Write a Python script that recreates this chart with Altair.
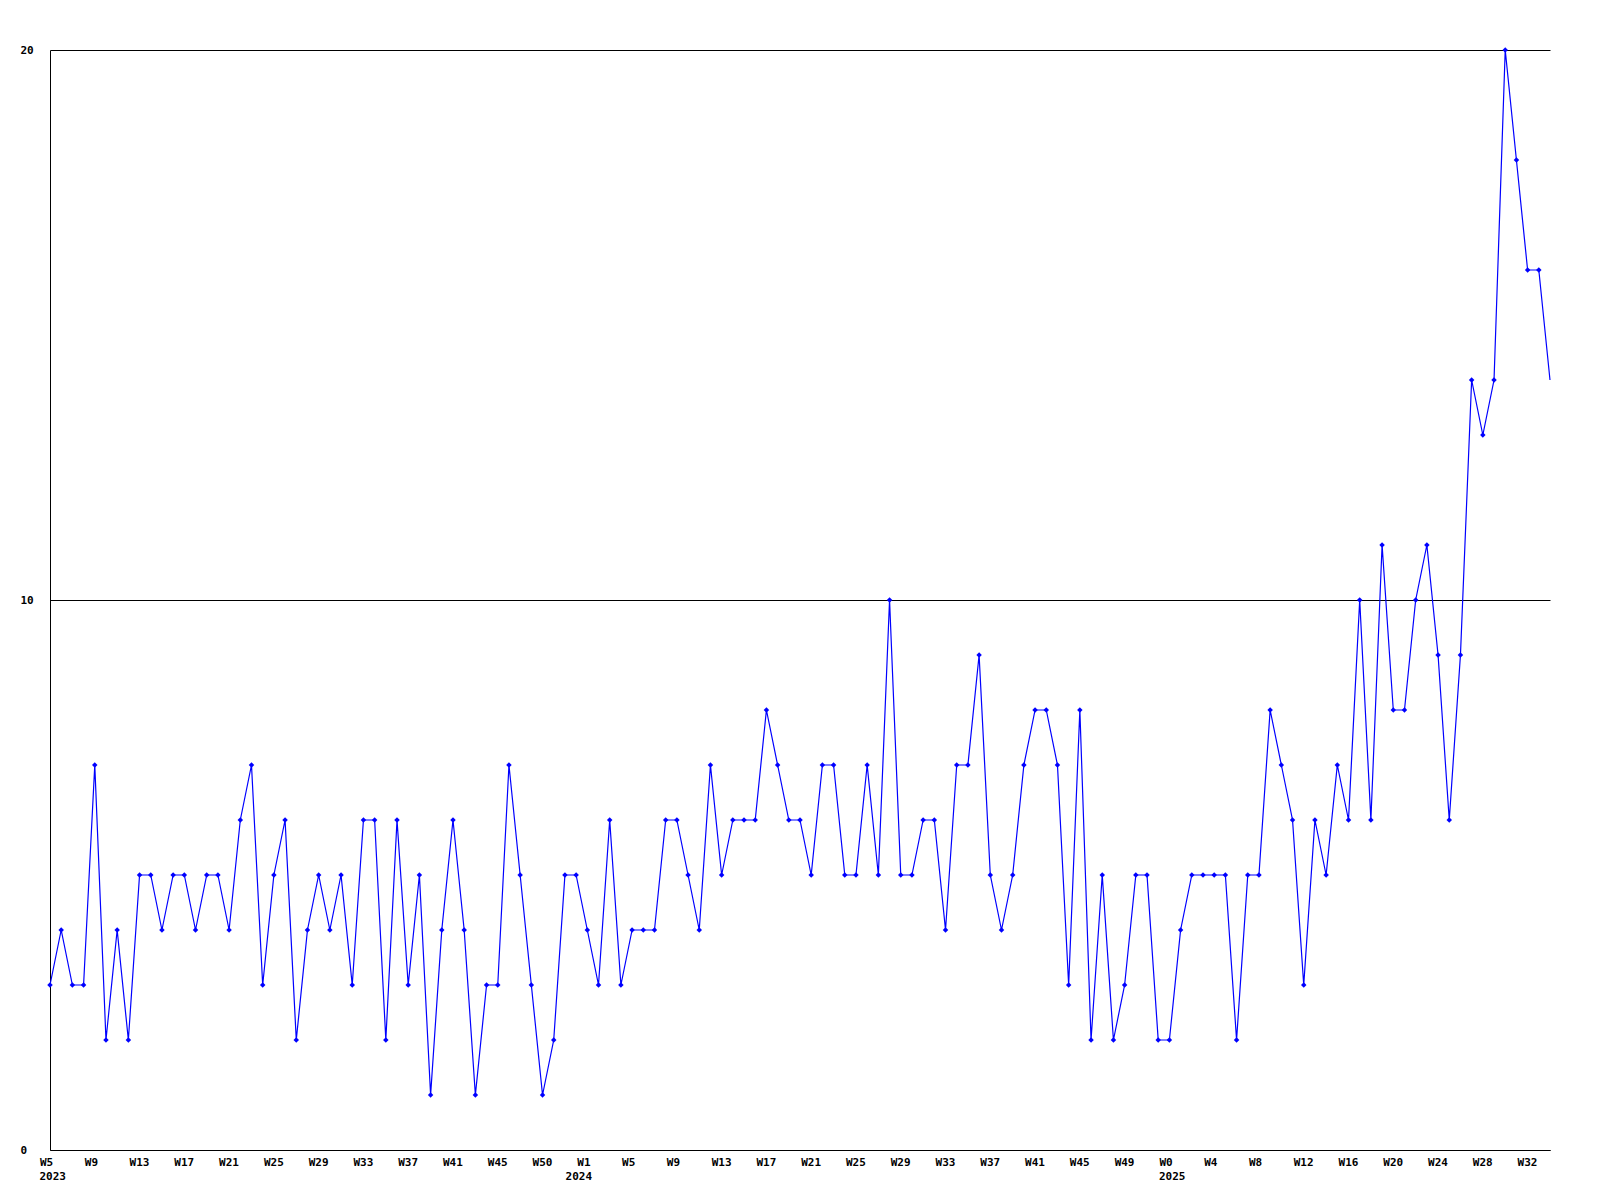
import altair as alt
import pandas as pd

# weekly values, 2023 W5 .. 2025 W33
values = [
    3, 4, 3, 3, 7, 2, 4, 2, 5, 5, 4, 5, 5, 4, 5, 5, 4, 6, 7, 3, 5, 6, 2, 4, 5, 4, 5, 3,
    6, 6, 2, 6, 3, 5, 1, 4, 6, 4, 1, 3, 3, 7, 5, 3, 1, 2, 5, 5, 4, 3, 6, 3, 4, 4, 4,
    6, 6, 5, 4, 7, 5, 6, 6, 6, 8, 7, 6, 6, 5, 7, 7, 5, 5, 7, 5, 10, 5, 5, 6, 6, 4, 7,
    7, 9, 5, 4, 5, 7, 8, 8, 7, 3, 8, 2, 5, 2, 3, 5, 5, 2, 2, 4, 5, 5, 5, 5, 2, 5, 5,
    8, 7, 6, 3, 6, 5, 7, 6, 10, 6, 11, 8, 8, 10, 11, 9, 6, 9,
    14, 13, 14, 20, 18, 16, 16, 14,
]

# tick labels, one every 4 weeks
week_labels = [
    "W5", "W9", "W13", "W17", "W21", "W25", "W29", "W33", "W37", "W41", "W45", "W50",
    "W1", "W5", "W9", "W13", "W17", "W21", "W25", "W29", "W33", "W37", "W41", "W45", "W49",
    "W0", "W4", "W8", "W12", "W16", "W20", "W24", "W28", "W32",
]
year_labels = ["2023", "2024", "2025"]
year_positions = [0, 47, 100]

W = 1500
H = 1100
FONT = "DejaVu Sans Mono"

df = pd.DataFrame({"idx": list(range(len(values))), "v": values})
years = pd.DataFrame({"idx": year_positions, "t": year_labels})

tick_values = list(range(0, 4 * len(week_labels), 4))
label_array = "[" + ",".join("'" + s + "'" for s in week_labels) + "]"

xscale = alt.Scale(domain=[0, len(values) - 1], nice=False, zero=False, padding=0)
yscale = alt.Scale(domain=[0, 20], nice=False)

x_enc = alt.X(
    "idx:Q",
    scale=xscale,
    axis=alt.Axis(
        values=tick_values,
        labelExpr=label_array + "[round(datum.value/4)]",
        title=None,
        grid=False,
        ticks=False,
        tickSize=0,
        domainColor="black",
        labelAlign="left",
        labelOffset=-10.5,
        labelBaseline="middle",
        labelPadding=12,
        labelFlush=False,
        labelOverlap=False,
        labelBound=False,
        labelFont=FONT,
        labelFontWeight="bold",
        labelFontSize=11,
        labelColor="black",
    ),
)
y_enc = alt.Y(
    "v:Q",
    scale=yscale,
    axis=alt.Axis(
        values=[0, 10, 20],
        title=None,
        grid=True,
        gridColor="black",
        gridOpacity=1,
        gridWidth=1,
        ticks=False,
        tickSize=0,
        domainColor="black",
        labelAlign="left",
        labelBaseline="middle",
        labelPadding=30,
        labelFlush=False,
        labelFont=FONT,
        labelFontWeight="bold",
        labelFontSize=11,
        labelColor="black",
    ),
)

line = alt.Chart(df).mark_line(color="#0000ff", strokeWidth=1.2).encode(x=x_enc, y=y_enc)
pts = (
    alt.Chart(df)
    .transform_filter(alt.datum.idx < len(values) - 1)
    .mark_point(shape="diamond", filled=True, color="#0000ff", size=30, opacity=1)
    .encode(x=alt.X("idx:Q", scale=xscale), y=alt.Y("v:Q", scale=yscale))
)
yr = (
    alt.Chart(years)
    .mark_text(
        align="left",
        baseline="middle",
        dx=-10.5,
        font=FONT,
        fontWeight="bold",
        fontSize=11,
        color="black",
    )
    .encode(x=alt.X("idx:Q", scale=xscale), y=alt.value(H + 27), text="t:N")
)

chart = (
    alt.layer(line, pts, yr)
    .properties(
        width=W,
        height=H,
        autosize=alt.AutoSizeParams(type="none"),
        padding={"left": 42, "top": 42, "right": 20, "bottom": 50},
        background="white",
    )
    .configure_view(stroke=None)
)

chart.save("out.html", embed_options={"renderer": "svg", "actions": False})
